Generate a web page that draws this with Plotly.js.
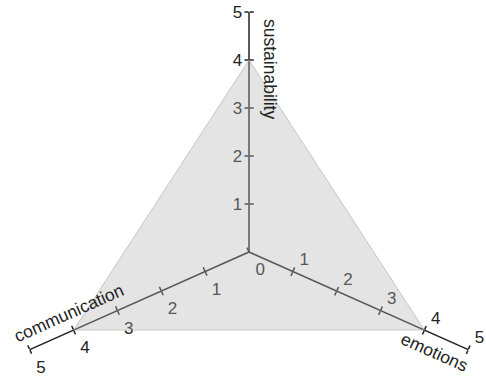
<!DOCTYPE html>
<html>
<head>
<meta charset="utf-8">
<script src="https://cdn.plot.ly/plotly-3.0.1.min.js"></script>
<style>
  html, body { margin: 0; padding: 0; background: #fff; overflow: hidden; }
  #frame { width: 486px; height: 376px; overflow: hidden; position: relative; }
  #chart { width: 500px; height: 500px; }
</style>
</head>
<body>
<div id="frame"><div id="chart"></div></div>
<script>
  // one axis per criterion, all on the same 0-5 scale
  var categories = ["sustainability", "emotions", "communication"];
  var values = [4, 4, 4];
  var axisAngles = [90, -24, 204];
  var tickValues = [0, 1, 2, 3, 4, 5];
  var axisRange = [0, 5];

  var ink = "#222";
  var font = { family: "Arial, 'Liberation Sans', sans-serif", size: 17, color: ink };
  // full circle, centre near (249, 252) of the visible 486x376 frame
  var domain = { x: [0.018, 0.978], y: [0.016, 0.976] };

  function polar(angle, opts) {
    return {
      domain: domain,
      bgcolor: "rgba(0,0,0,0)",
      angularaxis: { visible: false, showgrid: false },
      radialaxis: Object.assign({
        range: axisRange,
        angle: angle,
        side: "counterclockwise",
        showgrid: false,
        tickmode: "array",
        tickcolor: ink,
        tickwidth: 1.5,
        ticklen: 4
      }, opts)
    };
  }

  function upright(angle) {
    return ((angle + 180) % 360 + 360) % 360 - 180;
  }

  var layout = {
    width: 500,
    height: 500,
    margin: { l: 0, r: 0, t: 0, b: 0 },
    paper_bgcolor: "#fff",
    showlegend: false,
    font: font,
    annotations: []
  };
  var data = [];

  // polars 1-3: line + labels (ticks away from labels); 4-6: ticks on the label side
  axisAngles.forEach(function (angle, i) {
    var vals = i === 2 ? tickValues : tickValues.slice(1);
    layout["polar" + (i === 0 ? "" : i + 1)] = polar(angle, {
      showline: true, linecolor: ink, linewidth: 1.5,
      ticks: "inside", tickvals: vals, ticktext: vals.map(String),
      showticklabels: true, tickfont: font, tickangle: upright(angle)
    });
    layout["polar" + (i + 4)] = polar(angle, {
      showline: false, ticks: "outside", tickvals: tickValues.slice(1), showticklabels: false
    });
  });
  layout.polar7 = polar(0, { visible: false });

  for (var k = 1; k <= 6; k++) {
    data.push({
      type: "scatterpolar", subplot: k === 1 ? "polar" : "polar" + k,
      r: values, theta: axisAngles, mode: "none", hoverinfo: "skip"
    });
  }

  // filled profile sits on top, so axes inside it look greyed
  data.push({
    type: "scatterpolar", subplot: "polar7",
    r: values.concat(values[0]), theta: axisAngles.concat(axisAngles[0]),
    mode: "lines", fill: "toself",
    fillcolor: "rgba(180,180,180,0.36)",
    line: { color: "rgba(170,170,170,0.6)", width: 1 },
    hoverinfo: "skip"
  });

  // axis names placed near the outer ends (paper units of the 500x500 plot)
  var titlePos = [
    { x: 270 / 500, y: 1 - 69 / 500, textangle: 90 },
    { x: 434 / 500, y: 1 - 352 / 500, textangle: 24 },
    { x: 69 / 500, y: 1 - 313 / 500, textangle: -24 }
  ];
  categories.forEach(function (name, i) {
    layout.annotations.push({
      text: name, showarrow: false, xref: "paper", yref: "paper",
      x: titlePos[i].x, y: titlePos[i].y, xanchor: "center", yanchor: "middle",
      textangle: titlePos[i].textangle, font: { family: font.family, size: 17.5, color: ink }
    });
  });

  Plotly.newPlot("chart", data, layout, { displayModeBar: false, staticPlot: true });
</script>
</body>
</html>
